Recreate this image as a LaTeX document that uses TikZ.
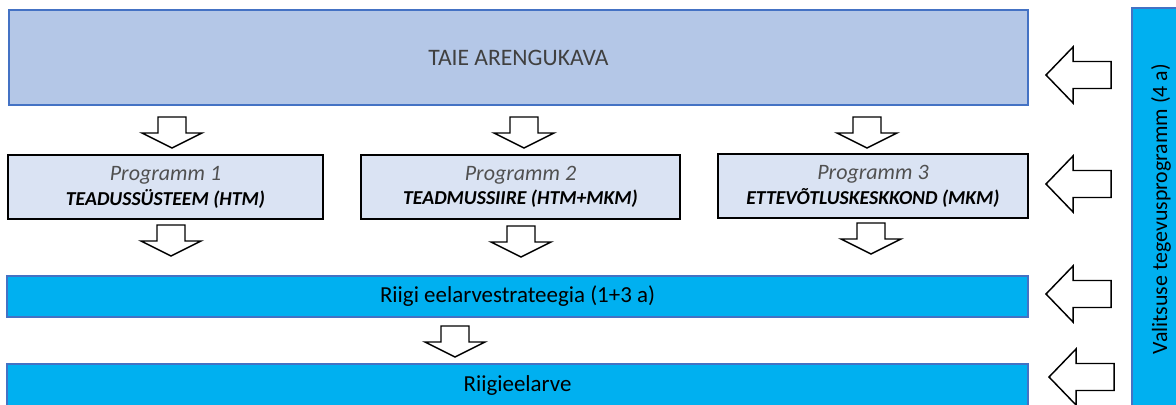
\documentclass[tikz,border=0pt]{standalone}
\usepackage{fontspec}
\setmainfont{Carlito}
\usetikzlibrary{positioning}
\definecolor{PaleBlue}{HTML}{B4C7E7}
\definecolor{LightBlue}{HTML}{DAE3F3}
\definecolor{SkyBlue}{HTML}{00B0F0}
\definecolor{EdgeBlue}{HTML}{4472C4}
\definecolor{DarkGrey}{HTML}{404040}
\definecolor{MidGrey}{HTML}{505050}
\newcommand{\pxu}{0.75pt}
\tikzset{
  planbox/.style={draw=EdgeBlue, fill=PaleBlue, line width=0.8pt, inner sep=0pt,
    text=DarkGrey, font=\fontsize{17.7}{21}\selectfont},
  progbox/.style={draw=black, fill=LightBlue, line width=1.1pt, inner sep=0pt,
    align=center, minimum height=64*\pxu},
  budgetbar/.style={draw=EdgeBlue, fill=SkyBlue, line width=0.8pt, inner sep=0pt,
    minimum width=1021*\pxu, font=\fontsize{17.2}{20}\selectfont},
  blockarr/.style={draw=black, fill=white, line width=1.1pt, line join=miter},
  downarr/.pic={\draw[blockarr] (-14,0) -- (14,0) -- (14,16) -- (30,16) -- (0,31)
    -- (-30,16) -- (-14,16) -- cycle;},
  leftarr/.pic={\draw[blockarr] (0,0) -- (27,-28) -- (27,-13.5) -- (65,-13.5)
    -- (65,13.5) -- (27,13.5) -- (27,28) -- cycle;}
}
\newcommand{\progtext}[2]{{\fontsize{16.5}{20}\selectfont\color{MidGrey}\itshape #1}\\[3pt]%
  {\fontsize{14.8}{18}\selectfont\bfseries\itshape #2}}

\begin{document}
\begin{tikzpicture}[x=\pxu, y=-\pxu]
  \clip (0,0) rectangle (1176,404);

  \node[planbox, minimum width=1019*\pxu, minimum height=95*\pxu] (taie) at (518.5,57.5) {TAIE ARENGUKAVA};

  \node[progbox, minimum width=315*\pxu] (prog1) at (165.5,187) {\progtext{Programm 1}{TEADUSSÜSTEEM (HTM)}};
  \node[progbox, minimum width=319*\pxu] (prog2) at (520.5,187) {\progtext{Programm 2}{TEADMUSSIIRE (HTM+MKM)}};
  \node[progbox, minimum width=310*\pxu] (prog3) at (873,186) {\progtext{Programm 3}{ETTEVÕTLUSKESKKOND (MKM)}};

  \node[budgetbar, minimum height=41*\pxu] (strat) at (517.5,296.5) {Riigi eelarvestrateegia (1+3 a)};
  \node[budgetbar, minimum height=42*\pxu] (budget) at (517.5,385) {Riigieelarve};

  % valitsuse programm
  \node[draw=EdgeBlue, fill=SkyBlue, line width=0.8pt, inner sep=0pt,
    minimum width=402*\pxu, minimum height=58*\pxu, rotate=90,
    font=\fontsize{16.4}{19}\selectfont] (govt) at (1161,209) {Valitsuse tegevusprogramm (4 a)};

  % nooled alla
  \pic at (172,117) {downarr};
  \pic at (524,117) {downarr};
  \pic at (867,117) {downarr};
  \pic at (171,225) {downarr};
  \pic at (521,226) {downarr};
  \pic at (871,223) {downarr};
  \pic at (455,326) {downarr};

  % nooled vasakule
  \pic at (1046,75) {leftarr};
  \pic at (1046,184) {leftarr};
  \pic at (1046,294) {leftarr};
  \pic at (1049,377) {leftarr};
\end{tikzpicture}
\end{document}
